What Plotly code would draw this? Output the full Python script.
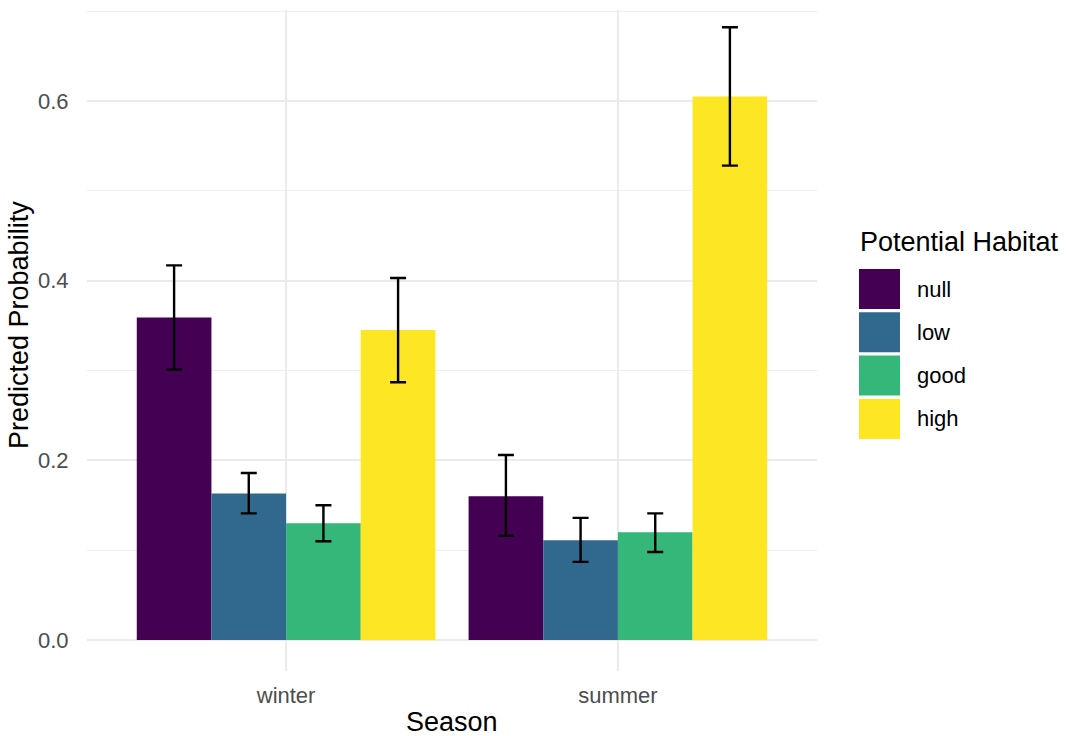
import plotly.graph_objects as go

# Predicted probabilities by season and potential habitat class
seasons = ["winter", "summer"]
habitats = ["null", "low", "good", "high"]
colors = ["#440154", "#31688E", "#35B779", "#FDE725"]

prob_null = [0.359, 0.160]
prob_low = [0.163, 0.111]
prob_good = [0.130, 0.120]
prob_high = [0.345, 0.605]

upper_null = [0.417, 0.206]
upper_low = [0.186, 0.136]
upper_good = [0.150, 0.141]
upper_high = [0.403, 0.682]

lower_null = [0.301, 0.116]
lower_low = [0.141, 0.087]
lower_good = [0.110, 0.098]
lower_high = [0.287, 0.528]

probs = [prob_null, prob_low, prob_good, prob_high]
uppers = [upper_null, upper_low, upper_good, upper_high]
lowers = [lower_null, lower_low, lower_good, lower_high]

FONT = "Liberation Sans, Arial, Helvetica, sans-serif"
W, H = 1070, 736
ML, MR, MT, MB = 87, 253, 10, 65
PW, PH = W - ML - MR, H - MT - MB

fig = go.Figure()
for name, col, p, up, lo in zip(habitats, colors, probs, uppers, lowers):
    fig.add_trace(go.Bar(
        x=seasons, y=p, name=name, marker=dict(color=col, line=dict(width=0)),
        error_y=dict(
            type="data", symmetric=False,
            array=[u - v for u, v in zip(up, p)],
            arrayminus=[v - l for v, l in zip(p, lo)],
            color="black", thickness=2.4, width=8,
        ),
        showlegend=False,
    ))


def px_x(px):
    return (px - ML) / PW


def px_y(py):
    return (H - MB - py) / PH


shapes = []
annotations = []

# Legend: title, colour keys and labels
annotations.append(dict(
    x=px_x(858), y=px_y(242), xref="paper", yref="paper", xanchor="left", yanchor="middle",
    text="Potential Habitat", showarrow=False, font=dict(family=FONT, size=27, color="black"),
))
for i, (name, col) in enumerate(zip(habitats, colors)):
    top = 269 + i * 43.3
    shapes.append(dict(
        type="rect", xref="paper", yref="paper",
        x0=px_x(859), x1=px_x(900), y0=px_y(top + 40), y1=px_y(top),
        fillcolor=col, line=dict(width=0), layer="above",
    ))
    annotations.append(dict(
        x=px_x(915), y=px_y(top + 20), xref="paper", yref="paper", xanchor="left", yanchor="middle",
        text=name, showarrow=False, font=dict(family=FONT, size=22, color="black"),
    ))

# Axis titles
annotations.append(dict(
    x=0.5, y=px_y(722), xref="paper", yref="paper", xanchor="center", yanchor="middle",
    text="Season", showarrow=False, font=dict(family=FONT, size=27, color="black"),
))
annotations.append(dict(
    x=px_x(19), y=px_y(325), xref="paper", yref="paper", xanchor="center", yanchor="middle",
    text="Predicted Probability", textangle=-90, showarrow=False,
    font=dict(family=FONT, size=27, color="black"),
))

fig.update_layout(
    width=W, height=H,
    margin=dict(l=ML, r=MR, t=MT, b=MB, pad=0),
    paper_bgcolor="white", plot_bgcolor="white",
    barmode="group", bargap=0.1, bargroupgap=0,
    showlegend=False,
    shapes=shapes, annotations=annotations,
    font=dict(family=FONT),
)
fig.update_xaxes(
    type="category", categoryorder="array", categoryarray=seasons,
    range=[-0.6, 1.6],
    showgrid=True, gridcolor="#EBEBEB", gridwidth=2,
    showline=False, zeroline=False,
    ticks="outside", ticklen=5, tickcolor="rgba(0,0,0,0)",
    tickfont=dict(family=FONT, size=22, color="#4D4D4D"),
)
fig.update_yaxes(
    range=[-0.0344, 0.7012],
    tickvals=[0.0, 0.2, 0.4, 0.6], ticktext=["0.0", "0.2", "0.4", "0.6"],
    showgrid=True, gridcolor="#EBEBEB", gridwidth=2,
    minor=dict(tickvals=[0.1, 0.3, 0.5, 0.7], showgrid=True, gridcolor="#EFEFEF", gridwidth=1.3, ticks=""),
    showline=False, zeroline=False,
    ticks="outside", ticklen=13, tickcolor="rgba(0,0,0,0)",
    tickfont=dict(family=FONT, size=22, color="#4D4D4D"),
)

fig.write_html("out.html")
